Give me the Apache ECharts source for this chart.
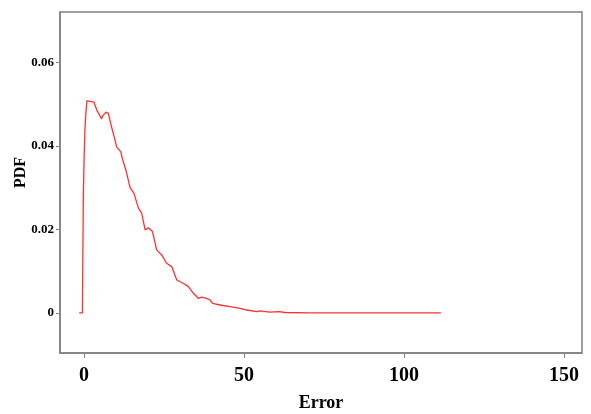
<!DOCTYPE html>
<html>
<head>
<meta charset="utf-8">
<script src="https://cdn.jsdelivr.net/npm/echarts@6/dist/echarts.min.js"></script>
<style>
	html, body { margin: 0; padding: 0; background: #fff; }
	#mychart { width: 591px; height: 414px; }
</style>
</head>
<body>
<div id="mychart"></div>
<script>
// error values (x) and density (y)
var errorVals = [-1.5, -0.5, -0.4, -0.2, 0.0, 0.3, 0.6, 0.9, 2.0, 3.1, 4.0, 5.0, 5.5, 6.0, 6.9, 7.6, 8.6, 9.5, 10.2, 11.5,
	12.1, 13.1, 14.4, 15.6, 17.0, 18.0, 19.1, 20.1, 21.4, 22.7, 24.3, 25.8, 27.4, 29.0, 31.0, 32.6, 34.2, 35.7, 36.8,
	38.3, 39.4, 40.2, 42.5, 45.6, 48.8, 50.8, 54.0, 55.0, 58.0, 61.0, 62.8, 70, 80, 90, 100, 111.5];
var pdfVals = [0, 0, 0.010, 0.028, 0.036, 0.044, 0.048, 0.0508, 0.0507, 0.0505, 0.0486, 0.0472, 0.0465, 0.0474, 0.0481, 0.0478, 0.0446, 0.0420, 0.0398, 0.0386,
	0.0367, 0.0342, 0.0300, 0.0287, 0.0251, 0.0240, 0.0199, 0.0204, 0.0195, 0.0151, 0.0139, 0.0119, 0.0111, 0.0079, 0.0071, 0.0063, 0.0047, 0.0035, 0.0038,
	0.0035, 0.0031, 0.0023, 0.0019, 0.0015, 0.0011, 0.0007, 0.0003, 0.0005, 0.0002, 0.0003, 0.0001, 0, 0, 0, 0, 0];
var xTicks = [0, 50, 100, 150];
var yTicks = [0, 0.02, 0.04, 0.06];

var chartData = [];
for (var i = 0; i < errorVals.length; i++) {
	chartData.push([errorVals[i], pdfVals[i]]);
}

var myChart = echarts.init(document.getElementById('mychart'));
var option = {
	animation: false,
	backgroundColor: '#fff',
	grid: {
		left: 60,
		right: 9,
		top: 12,
		bottom: 61,
		outerBoundsMode: 'none',
		show: true,
		borderColor: '#808080',
		borderWidth: 1.5
	},
	xAxis: {
		type: 'value',
		min: -7.5,
		max: 155.6,
		name: 'Error',
		nameLocation: 'middle',
		nameGap: 41,
		nameMoveOverlap: false,
		nameTextStyle: {
			fontFamily: 'Liberation Serif',
			fontWeight: 'bold',
			fontSize: 18,
			color: '#000'
		},
		axisLine: { onZero: false, lineStyle: { color: '#808080', width: 1.5 } },
		axisTick: { show: true, length: 5, lineStyle: { color: '#808080' }, customValues: xTicks },
		axisLabel: {
			margin: 13,
			fontFamily: 'Liberation Serif',
			fontWeight: 'bold',
			fontSize: 20,
			color: '#000',
			customValues: xTicks
		},
		splitLine: { show: false }
	},
	yAxis: {
		type: 'value',
		min: -0.0096,
		max: 0.0721,
		name: 'PDF',
		nameLocation: 'middle',
		nameRotate: 90,
		nameGap: 31,
		nameMoveOverlap: false,
		nameTextStyle: {
			fontFamily: 'Liberation Serif',
			fontWeight: 'bold',
			fontSize: 16,
			color: '#000',
			padding: [0, 0, 0, 20]
		},
		axisLine: { onZero: false, lineStyle: { color: '#808080', width: 1.5 } },
		axisTick: { show: true, length: 4, lineStyle: { color: '#808080' }, customValues: yTicks },
		axisLabel: {
			margin: 6,
			fontFamily: 'Liberation Serif',
			fontWeight: 'bold',
			fontSize: 13,
			color: '#000',
			customValues: yTicks,
			formatter: function(v) {
				return v === 0 ? '0' : v.toFixed(2);
			}
		},
		splitLine: { show: false }
	},
	series: [{
		type: 'line',
		data: chartData,
		showSymbol: false,
		lineStyle: { color: '#ff3030', width: 1.3 }
	}]
};
myChart.setOption(option);
</script>
</body>
</html>
